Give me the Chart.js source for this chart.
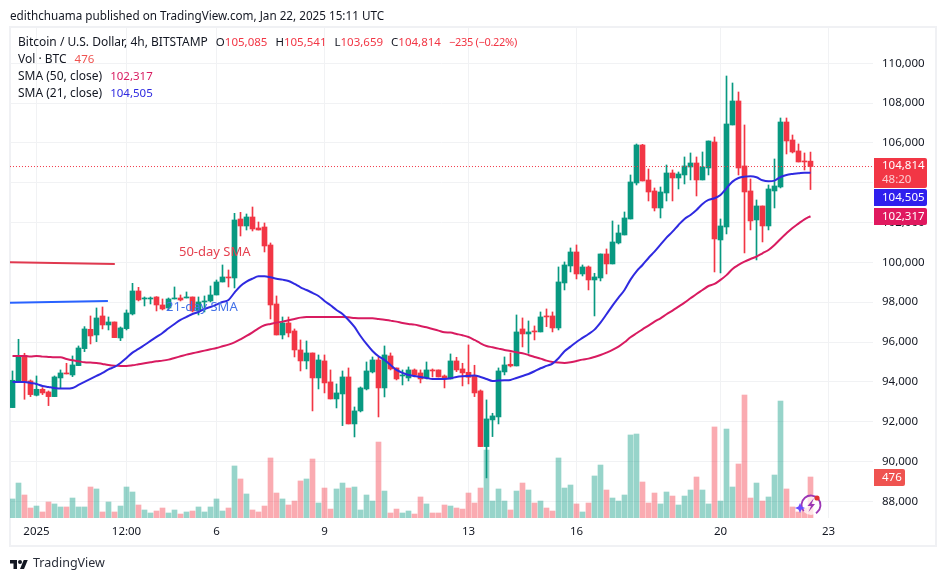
<!DOCTYPE html>
<html>
<head>
<meta charset="utf-8">
<title>BTCUSD 4h</title>
<script src="https://cdn.jsdelivr.net/npm/chart.js@4"></script>
<style>
  html, body { margin: 0; padding: 0; background: #fff; }
  body { width: 945px; height: 581px; position: relative; overflow: hidden; font-family: "Noto Sans", sans-serif; color: #131722; }
  #chart { position: absolute; left: 0; top: 0; }
  #frame { position: absolute; left: 9px; top: 26px; width: 924px; height: 517px; border: 2px solid #f0f1f4; }
  .txt { position: absolute; white-space: nowrap; }
  #head { left: 10px; top: 7px; font-size: 11.7px; line-height: 16px; }
  .leg { left: 18px; font-size: 12px; line-height: 16px; }
  .leg span { margin-left: 8px; font-size: 11.5px; }
  .leg i { font-style: normal; }
  .leg .chg { font-size: 11px; letter-spacing: -0.3px; }
  .red { color: #f23645; }
  #logo { position: absolute; left: 10px; top: 558px; }
  #brand { left: 33px; top: 554px; font-size: 12.5px; line-height: 18px; color: #2a2e39; }
  #spark { position: absolute; left: 792px; top: 490px; }
</style>
</head>
<body>
<div id="frame"></div>
<canvas id="chart" width="945" height="581"></canvas>
<div class="txt" id="head">edithchuama published on TradingView.com, Jan 22, 2025 15:11 UTC</div>
<div class="txt leg" style="top:34px">Bitcoin / U.S. Dollar, 4h, BITSTAMP<span>O<i class="red">105,085</i></span><span>H<i class="red">105,541</i></span><span>L<i class="red">103,659</i></span><span>C<i class="red">104,814</i></span><span class="red chg">−235 (−0.22%)</span></div>
<div class="txt leg" style="top:51px">Vol · BTC<span style="color:#ef5350">476</span></div>
<div class="txt leg" style="top:68px">SMA (50, close)<span style="color:#d81b60">102,317</span></div>
<div class="txt leg" style="top:85px">SMA (21, close)<span style="color:#2f2ae0">104,505</span></div>
<svg id="logo" width="18" height="14" viewBox="0 0 36 28"><path fill="#131722" d="M14 22H7V11H0V4h14v18zM28 22h-8l7.5-18h8L28 22z"/><circle fill="#131722" cx="20" cy="8" r="4"/></svg>
<div class="txt" id="brand">TradingView</div>
<svg id="spark" width="32" height="30" viewBox="0 0 32 30">
  <circle cx="19" cy="15" r="10" fill="rgba(255,255,255,0.7)"/>
  <circle cx="19" cy="15" r="9.5" fill="none" stroke="#9c36b5" stroke-width="1.8" stroke-dasharray="46 14" transform="rotate(140 19 15)"/>
  <path fill="#9c36b5" d="M22 8l-6.5 8h3.5l-2.5 6 6.5-8h-3.5z"/>
  <circle cx="25" cy="8" r="2.6" fill="#e03131"/>
  <path fill="#6a4cff" d="M8 13l1.6 3.4L13 18l-3.4 1.6L8 23l-1.6-3.4L3 18l3.4-1.6z"/>
</svg>
<script>
const opens = [92705,94044,95333,94044,93324,93626,93492,93257,94195,94446,
  94345,94814,95668,96639,96354,97308,96856,97007,96204,96672,
  97409,98564,98162,98162,98263,97861,97710,98162,98212,98212,
  98263,97560,98012,98062,98363,99016,99267,99217,102180,101828,
  102280,101728,101778,100874,97911,96354,96957,96555,95601,95049,
  95450,94195,95049,93994,93140,93391,94245,91885,92538,93642,
  94496,95099,93693,95300,94697,94295,94195,94597,94446,94195,
  94597,94597,94295,94145,95049,94647,94480,94296,93543,90747,
  92086,92237,94497,94882,94798,96656,96405,96556,96506,97309,
  97309,96706,98966,99820,100523,99418,99770,99117,99217,100423,
  99921,100975,101377,102180,103988,105897,104139,103587,102733,103486,
  104491,104240,104391,104792,104993,104140,104742,106048,101126,101779,
  106902,108107,104843,103587,102131,102834,101829,103587,103788,107052,
  106148,105596,105094,105085];
const highs = [94546,96137,95434,94094,94295,93709,93542,94295,94597,94931,
  95300,95802,96773,97308,97710,97760,97258,97007,96756,97610,
  98949,98748,98263,98263,98279,98162,98212,98765,98363,98514,
  98263,98263,98313,98815,99116,99870,99619,102464,102515,102431,
  102782,102029,101979,100975,98313,97258,97258,96656,96103,96053,
  95450,95350,95350,94597,93894,94546,94697,92738,93743,94998,
  95249,95249,95802,95450,94697,94597,94747,94647,94597,94998,
  94647,94597,94345,95401,95233,94932,95853,94832,93593,93091,
  92421,94698,95250,95451,97359,97209,97058,96807,97510,97661,
  97510,99770,100021,100724,100875,99870,99820,99452,100423,100674,
  102080,101879,102532,104390,105947,105930,104691,103737,103787,104892,
  104642,104541,105295,105496,105295,105546,106098,106299,102181,109362,
  109011,108559,106902,104190,103135,102834,103888,105194,107253,107253,
  106399,105948,105496,105541];
const lows = [92705,94011,93123,93257,93291,93358,92805,93257,93676,94396,
  94262,94814,95517,95902,96019,96656,96605,96220,96070,96605,
  97359,98062,97811,97911,97560,97610,97610,98162,98062,98212,
  97509,97359,97509,98012,98363,99016,98765,98715,101326,101627,
  101577,101627,100523,97158,96354,96153,96254,95249,94546,94647,
  92538,93642,93442,93140,92688,91801,91885,91232,92487,93592,
  94446,92236,93241,94597,94094,93843,94044,94245,93944,94145,
  94245,94245,93693,94145,94513,93794,93894,93258,90747,89173,
  91249,91885,94346,94748,94798,95752,95434,96104,96506,96773,
  96506,96606,98615,99519,99167,99318,98615,97309,99067,99418,
  99921,100925,101377,102180,103888,104089,103084,102582,102231,103084,
  103085,103688,103939,104140,103336,104140,104391,99519,99469,101428,
  106902,104391,100474,101629,100122,101026,101629,102733,103738,105445,
  105496,105044,104642,103659];
const closes = [94078,95300,94011,93358,93626,93442,93257,94245,94446,94396,
  94848,95701,96656,96304,97208,96856,97007,96220,96706,97459,
  98564,98112,98212,98212,97861,97660,98162,98212,98112,98263,
  97560,98012,98062,98363,99016,99267,99217,102130,101828,102280,
  101678,101627,100824,97861,96354,96957,96455,95601,95049,95450,
  94195,95099,93944,93140,93442,94245,91885,92538,93693,94546,
  95099,93693,95350,94647,94145,94345,94597,94345,94145,94597,
  94546,94245,94145,95049,94597,94447,94229,93442,90747,92136,
  92287,94547,94848,94798,96506,96405,96506,96506,97259,97259,
  96706,99017,99870,100523,99418,99770,99117,99268,100423,99921,
  101025,101477,102231,104039,105897,104089,103536,102733,103536,104491,
  104240,104441,104843,104993,104140,104792,106098,101177,101829,106952,
  108107,104742,103537,102081,102834,101829,103688,103838,107052,106098,
  105546,105044,105044,104814];
const volumes = [221,406,267,116,139,70,186,163,128,128,
  232,128,128,360,337,70,186,70,139,360,
  302,151,93,58,81,116,58,93,46,70,
  81,128,70,128,221,81,116,604,453,279,
  93,70,139,697,290,221,151,197,430,453,
  685,174,348,104,337,406,348,360,93,267,
  197,882,313,58,104,58,81,46,244,163,
  58,58,151,139,116,104,290,174,348,789,
  197,337,197,93,313,406,325,174,197,116,
  81,697,348,383,163,70,174,488,615,325,
  232,197,267,964,975,418,174,290,163,302,
  255,151,255,325,476,325,163,1057,197,1033,
  360,627,1428,232,406,197,244,499,1358,337,
  128,70,116,476];
const sma21 = [93994,93994,93994,93944,93894,93793,93743,93693,93659,93659,
  93693,93843,93994,94145,94295,94446,94630,94747,94948,95199,
  95467,95651,95852,96053,96254,96455,96689,96907,97108,97258,
  97409,97509,97660,97760,97878,98012,98112,98480,98815,99033,
  99183,99301,99301,99250,99183,99133,99066,98916,98748,98614,
  98464,98313,98062,97844,97610,97409,97108,96756,96304,95902,
  95551,95283,95099,94848,94597,94446,94345,94295,94245,94195,
  94145,94145,94145,94179,94246,94279,94296,94313,94246,94145,
  94045,94062,94078,94095,94195,94296,94396,94530,94681,94798,
  94915,95183,95535,95769,96003,96204,96405,96623,96974,97393,
  97828,98230,98615,99134,99552,99870,100222,100540,100891,101240,
  101545,101880,102181,102382,102633,102934,103135,103219,103386,103721,
  104056,104240,104307,104324,104274,104123,104073,104106,104290,104391,
  104441,104474,104508,104505];
const sma50 = [95300,95300,95300,95266,95300,95266,95249,95233,95233,95149,
  95082,95032,94982,94965,94948,94898,94848,94814,94797,94797,
  94831,94881,94931,94982,95032,95065,95116,95199,95283,95367,
  95434,95501,95568,95634,95701,95785,95869,95986,96137,96304,
  96488,96689,96840,96907,96974,97024,97091,97158,97225,97258,
  97258,97258,97258,97258,97258,97258,97241,97208,97191,97191,
  97191,97158,97124,97074,97024,96957,96907,96873,96806,96739,
  96656,96572,96488,96472,96405,96338,96254,96104,95936,95802,
  95736,95669,95602,95551,95484,95434,95350,95250,95166,95066,
  94999,94965,94949,94982,95049,95116,95166,95250,95350,95468,
  95602,95769,95987,96238,96439,96639,96824,97024,97192,97393,
  97576,97776,97977,98195,98413,98613,98814,98915,99120,99360,
  99670,99871,100038,100172,100289,100457,100624,100875,101177,101461,
  101729,101947,102164,102317];
const priceTicks = [110000,108000,106000,104000,102000,100000,98000,96000,94000,92000,90000,88000];
const xTickIndex = [4,19,34,52,76,94,118,136];
const xTickLabels = ['2025','12:00','6','9','13','16','20','23'];
const lastClose = 104814;
const drawn50 = [100004, 99919];
const drawn21 = [97975, 98060];

const fontName = '"Noto Sans", sans-serif';
const GREEN = '#089981', RED = '#f23645';
const up = closes.map((c, i) => c >= opens[i]);
const xy = arr => arr.map((v, i) => ({ x: i, y: v }));

// price tags and the hand drawn notes, written after the datasets
const overlay = {
  id: 'overlay',
  afterDraw(chart) {
    const c = chart.ctx, xs = chart.scales.x, ys = chart.scales.y;
    c.save();
    c.textBaseline = 'middle';
    c.font = '13px ' + fontName;
    c.fillStyle = '#e5404f';
    c.fillText('50-day SMA', xs.getPixelForValue(27.75), ys.getPixelForValue(100522));
    c.fillStyle = '#4472e8';
    c.fillText('21-day SMA', xs.getPixelForValue(25.6), ys.getPixelForValue(97759));

    const tag = (top, h, w, col) => {
      c.fillStyle = col;
      c.beginPath();
      c.roundRect(874, top, w, h, [0, 2, 2, 0]);
      c.fill();
    };
    c.font = '11.5px ' + fontName;
    tag(208, 17, 53, '#e0195f');
    tag(189, 17, 53, '#2f1fee');
    tag(158, 30, 53, RED);
    tag(469, 17, 31, '#ef5350');
    c.fillStyle = '#fff';
    c.fillText('104,814', 882, 166);
    c.fillText('104,505', 882, 197.5);
    c.fillText('102,317', 882, 216.5);
    c.fillText('476', 882, 477.5);
    c.fillStyle = 'rgba(255,255,255,0.75)';
    c.fillText('48:20', 882, 180);
    c.restore();
  }
};

new Chart(document.getElementById('chart'), {
  data: {
    datasets: [
      { type: 'bar', yAxisID: 'yVol', order: 6, data: xy(volumes), barThickness: 5, maxBarThickness: 5,
        backgroundColor: up.map(u => u ? 'rgba(8,153,129,0.42)' : 'rgba(242,54,69,0.42)') },
      { type: 'bar', order: 5, data: lows.map((l, i) => ({ x: i, y: [l, highs[i]] })), barThickness: 1, maxBarThickness: 1,
        backgroundColor: up.map(u => u ? GREEN : RED) },
      { type: 'bar', order: 4, data: opens.map((o, i) => ({ x: i, y: [o, closes[i]] })), barThickness: 5, maxBarThickness: 5, minBarLength: 1,
        backgroundColor: up.map(u => u ? GREEN : RED) },
      { type: 'line', order: 3, data: [{ x: -0.42, y: lastClose }, { x: 143.42, y: lastClose }],
        borderColor: RED, borderWidth: 1, borderDash: [1, 2], pointRadius: 0 },
      { type: 'line', order: 2, data: xy(sma50), borderColor: '#d81b60', borderWidth: 2, pointRadius: 0, cubicInterpolationMode: 'monotone' },
      { type: 'line', order: 1, data: xy(sma21), borderColor: '#2f2ae0', borderWidth: 2, pointRadius: 0, cubicInterpolationMode: 'monotone' },
      { type: 'line', order: 1, data: [{ x: -0.42, y: drawn50[0] }, { x: 17.05, y: drawn50[1] }],
        borderColor: '#e0394f', borderWidth: 2, pointRadius: 0 },
      { type: 'line', order: 1, data: [{ x: -0.42, y: drawn21[0] }, { x: 15.9, y: drawn21[1] }],
        borderColor: '#2962ff', borderWidth: 2, pointRadius: 0 }
    ]
  },
  options: {
    animation: false,
    responsive: false,
    events: [],
    layout: { padding: { left: 10, top: 28, right: 11, bottom: 36 } },
    datasets: { bar: { grouped: false, borderWidth: 0 } },
    plugins: { legend: { display: false }, tooltip: { enabled: false } },
    scales: {
      x: {
        type: 'linear', offset: false, min: -0.4167, max: 143.4167,
        afterBuildTicks(axis) { axis.ticks = xTickIndex.map(v => ({ value: v })); },
        afterFit(axis) { axis.height = 27; },
        grid: { color: '#f1f2f4', drawTicks: false, offset: false },
        border: { display: false },
        ticks: {
          autoSkip: false, maxRotation: 0, padding: 7, color: '#131722',
          font: { family: fontName, size: 11.5 },
          callback(v) { return xTickLabels[xTickIndex.indexOf(v)]; }
        }
      },
      y: {
        type: 'linear', position: 'right', min: 87160, max: 111773,
        afterBuildTicks(axis) { axis.ticks = priceTicks.map(v => ({ value: v })); },
        afterFit(axis) { axis.width = 61; },
        grid: { color: '#f1f2f4', drawTicks: false },
        border: { display: false },
        ticks: {
          padding: 9, color: '#131722', align: 'center',
          font: { family: fontName, size: 11.5 },
          callback(v) { return v.toLocaleString('en-US'); }
        }
      },
      yVol: { type: 'linear', display: false, min: 0, max: 5689 }
    }
  },
  plugins: [overlay]
});
</script>
</body>
</html>
